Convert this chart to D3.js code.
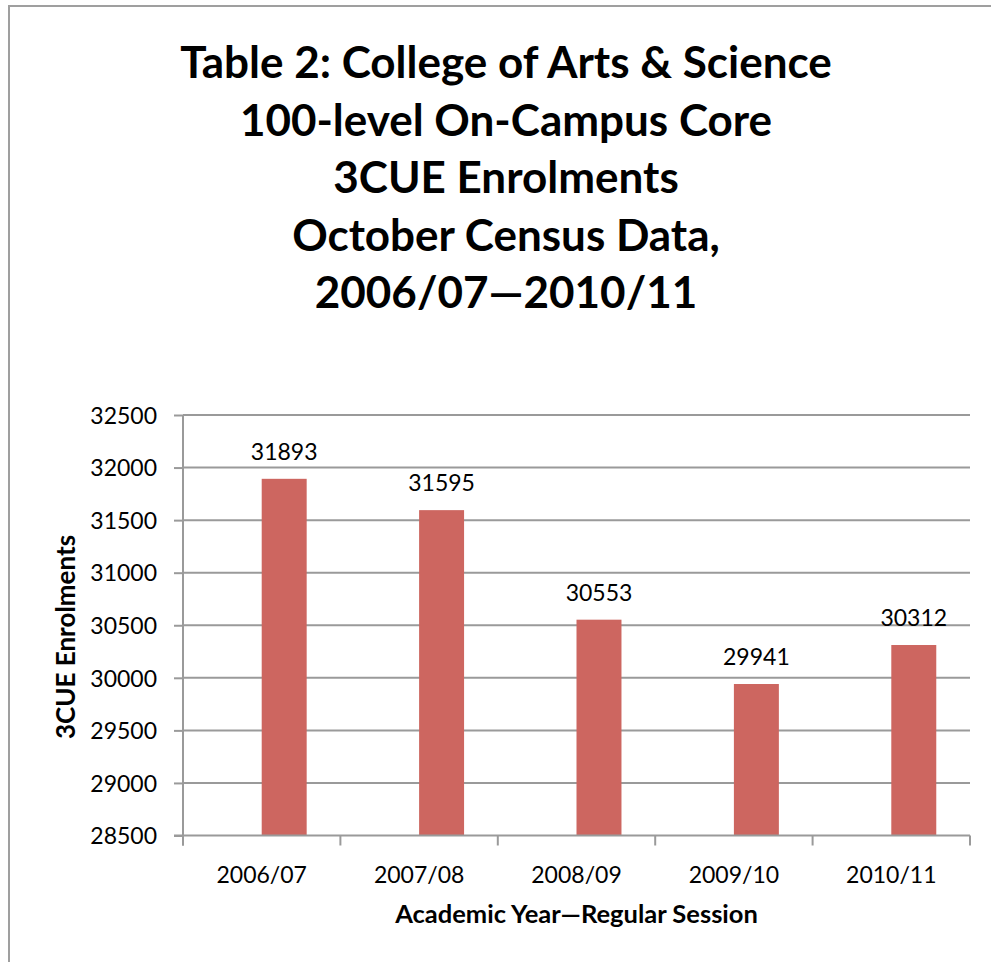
<!DOCTYPE html>
<html>
<head>
<meta charset="utf-8">
<script src="https://cdn.jsdelivr.net/npm/d3@7"></script>
<style>
  html, body { margin: 0; padding: 0; background: #fff; }
  svg { display: block; }
  text { font-family: Lato, "Open Sans", "Liberation Sans", sans-serif; fill: #000; }
</style>
</head>
<body>
<svg id="chart" width="991" height="962"></svg>
<script>
// Chart content
const titleLines = [
  "Table 2: College of Arts & Science",
  "100-level On-Campus Core",
  "3CUE Enrolments",
  "October Census Data,",
  "2006/07\u20142010/11"
];
const years = ["2006/07", "2007/08", "2008/09", "2009/10", "2010/11"];
const enrolments = [31893, 31595, 30553, 29941, 30312];
const yTicks = [28500, 29000, 29500, 30000, 30500, 31000, 31500, 32000, 32500];
const yAxisTitle = "3CUE Enrolments";
const xAxisTitle = "Academic Year\u2014Regular Session";
// Each category holds two series slots; the enrolment bar sits in the second one
const seriesSlots = ["spacer", "enrolments"];

const rows = years.map((year, i) => ({ year, value: enrolments[i] }));

const svg = d3.select("#chart");
const gridColor = "#9a9a9a";
const barColor = "#cd6660";
const fontStack = 'Lato, "Open Sans", sans-serif';

// Outer chart frame
svg.append("rect")
  .attr("x", 9).attr("y", 6)
  .attr("width", 1000).attr("height", 1000)
  .attr("fill", "none")
  .attr("stroke", "#9f9f9f")
  .attr("stroke-width", 2);

// Title
svg.append("g")
  .selectAll("text")
  .data(titleLines)
  .join("text")
  .attr("x", 506)
  .attr("y", (d, i) => 78 + i * 57.6)
  .attr("text-anchor", "middle")
  .attr("font-size", 44)
  .attr("font-weight", 700)
  .text(d => d);

// Plot area
const plot = { left: 183, right: 970, top: 415, bottom: 835.5 };

const x = d3.scaleBand()
  .domain(years)
  .range([plot.left, plot.right])
  .paddingInner(0)
  .paddingOuter(0);

const xSlot = d3.scaleBand()
  .domain(seriesSlots)
  .range([0, x.bandwidth()])
  .paddingInner(0)
  .paddingOuter(0.75);

const y = d3.scaleLinear()
  .domain([yTicks[0], yTicks[yTicks.length - 1]])
  .range([plot.bottom, plot.top]);

// Horizontal gridlines
svg.append("g")
  .selectAll("line")
  .data(yTicks.slice(1))
  .join("line")
  .attr("x1", plot.left).attr("x2", plot.right)
  .attr("y1", d => y(d)).attr("y2", d => y(d))
  .attr("stroke", gridColor)
  .attr("stroke-width", 2);

// Bars
svg.append("g")
  .selectAll("rect")
  .data(rows)
  .join("rect")
  .attr("x", d => x(d.year) + xSlot("enrolments"))
  .attr("y", d => y(d.value))
  .attr("width", xSlot.bandwidth())
  .attr("height", d => y(yTicks[0]) - y(d.value))
  .attr("fill", barColor);

// Value labels above bars
svg.append("g")
  .selectAll("text")
  .data(rows)
  .join("text")
  .attr("x", d => x(d.year) + xSlot("enrolments") + xSlot.bandwidth() / 2)
  .attr("y", d => y(d.value) - 19)
  .attr("text-anchor", "middle")
  .attr("font-size", 23)
  .attr("fill", "#111")
  .text(d => d.value);

// Y axis
const yAxis = svg.append("g")
  .attr("transform", `translate(${plot.left},0)`)
  .call(d3.axisLeft(y)
    .tickValues(yTicks)
    .tickFormat(d3.format("d"))
    .tickSize(9)
    .tickPadding(17)
    .tickSizeOuter(0));
yAxis.select(".domain").remove();
yAxis.selectAll(".tick line").attr("stroke", gridColor).attr("stroke-width", 2);
yAxis.selectAll(".tick text")
  .attr("font-size", 23)
  .attr("font-family", fontStack)
  .attr("fill", "#111")
  .attr("dy", "0.36em");
yAxis.append("line")
  .attr("x1", 0).attr("x2", 0)
  .attr("y1", plot.top).attr("y2", plot.bottom + 10)
  .attr("stroke", gridColor).attr("stroke-width", 2);

// X axis: labels at category centres, ticks on category boundaries
const xAxis = svg.append("g")
  .attr("transform", `translate(0,${plot.bottom})`)
  .call(d3.axisBottom(x).tickSize(0).tickPadding(31).tickSizeOuter(0));
xAxis.select(".domain").remove();
xAxis.selectAll(".tick text")
  .attr("font-size", 23)
  .attr("font-family", fontStack)
  .attr("fill", "#111");
xAxis.append("line")
  .attr("x1", plot.left - 9).attr("x2", plot.right)
  .attr("y1", 0).attr("y2", 0)
  .attr("stroke", gridColor).attr("stroke-width", 2);
xAxis.selectAll("line.boundary")
  .data(years.map(d => x(d)).concat([x.range()[1]]))
  .join("line")
  .attr("class", "boundary")
  .attr("x1", d => d).attr("x2", d => d)
  .attr("y1", 0).attr("y2", 10)
  .attr("stroke", gridColor).attr("stroke-width", 2);

// Axis titles
svg.append("text")
  .attr("x", (plot.left + plot.right) / 2)
  .attr("y", 923)
  .attr("text-anchor", "middle")
  .attr("font-size", 25.5)
  .attr("font-weight", 700)
  .text(xAxisTitle);

svg.append("text")
  .attr("transform", `translate(75,637) rotate(-90)`)
  .attr("text-anchor", "middle")
  .attr("font-size", 26)
  .attr("font-weight", 700)
  .text(yAxisTitle);
</script>
</body>
</html>
